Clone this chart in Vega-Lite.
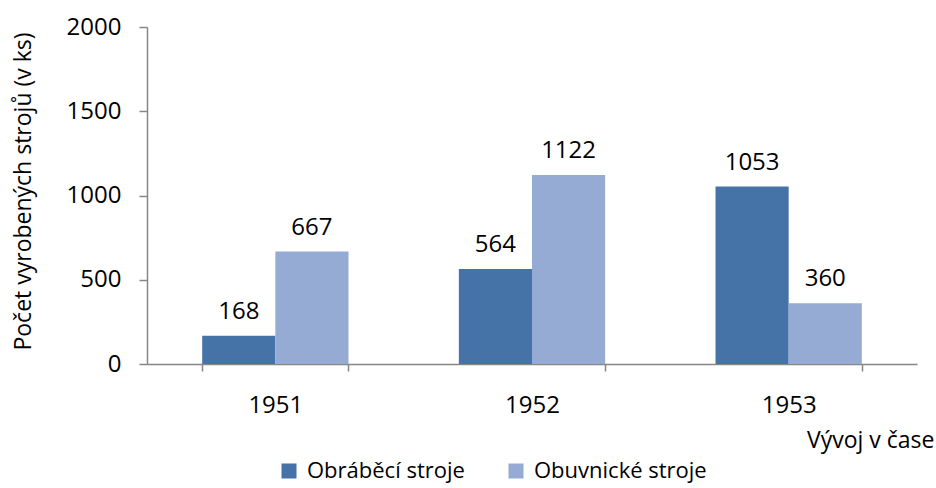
{
  "$schema": "https://vega.github.io/schema/vega-lite/v6.json",
  "width": 770,
  "height": 337,
  "autosize": {"type": "none"},
  "padding": {"left": 147, "top": 27, "right": 19, "bottom": 124},
  "background": "white",
  "config": {
    "font": "Open Sans",
    "view": {"stroke": null},
    "axis": {"grid": false, "domainColor": "#868686", "tickColor": "#868686", "labelColor": "#000000", "titleColor": "#000000", "labelFontSize": 24, "titleFontSize": 23, "titleFontWeight": "normal", "domainWidth": 1.5, "tickWidth": 1.5}
  },
  "data": {
    "values": [
      {"rok": "1951", "typ": "Obráběcí stroje", "pocet": 168},
      {"rok": "1951", "typ": "Obuvnické stroje", "pocet": 667},
      {"rok": "1952", "typ": "Obráběcí stroje", "pocet": 564},
      {"rok": "1952", "typ": "Obuvnické stroje", "pocet": 1122},
      {"rok": "1953", "typ": "Obráběcí stroje", "pocet": 1053},
      {"rok": "1953", "typ": "Obuvnické stroje", "pocet": 360}
    ]
  },
  "encoding": {
    "x": {
      "field": "rok", "type": "nominal",
      "scale": {"paddingInner": 0.43, "paddingOuter": 0.215},
      "axis": {"labelAngle": 0, "tickBand": "extent", "tickSize": 7, "labelPadding": 22, "title": "Vývoj v čase", "titleAnchor": "end", "titleAlign": "right", "titleX": 787, "titleY": 76, "titleBaseline": "middle"}
    },
    "xOffset": {"field": "typ", "type": "nominal", "sort": ["Obráběcí stroje", "Obuvnické stroje"]},
    "y": {
      "field": "pocet", "type": "quantitative",
      "scale": {"domain": [0, 2000]},
      "axis": {"values": [0, 500, 1000, 1500, 2000], "format": "d", "tickSize": 8, "labelPadding": 18, "title": "Počet vyrobených strojů (v ks)", "titleFontSize": 23, "titleX": -124, "titleY": 164, "titleAnchor": "middle", "titleBaseline": "middle", "titleAlign": "center"}
    }
  },
  "layer": [
    {
      "mark": {"type": "bar"},
      "encoding": {
        "color": {
          "field": "typ", "type": "nominal",
          "sort": ["Obráběcí stroje", "Obuvnické stroje"],
          "scale": {"domain": ["Obráběcí stroje", "Obuvnické stroje"], "range": ["#4673A7", "#95ABD4"]},
          "legend": {"title": null, "orient": "none", "direction": "horizontal", "legendX": 131, "legendY": 433, "symbolType": "square", "symbolSize": 225, "symbolStrokeWidth": 0, "labelFontSize": 22, "labelLimit": 400, "labelColor": "#000000", "columnPadding": 40, "labelOffset": 7}
        }
      }
    },
    {
      "mark": {"type": "text", "baseline": "middle", "dy": -24, "fontSize": 24, "color": "#000000"},
      "encoding": {"text": {"field": "pocet", "type": "quantitative"}}
    }
  ]
}
